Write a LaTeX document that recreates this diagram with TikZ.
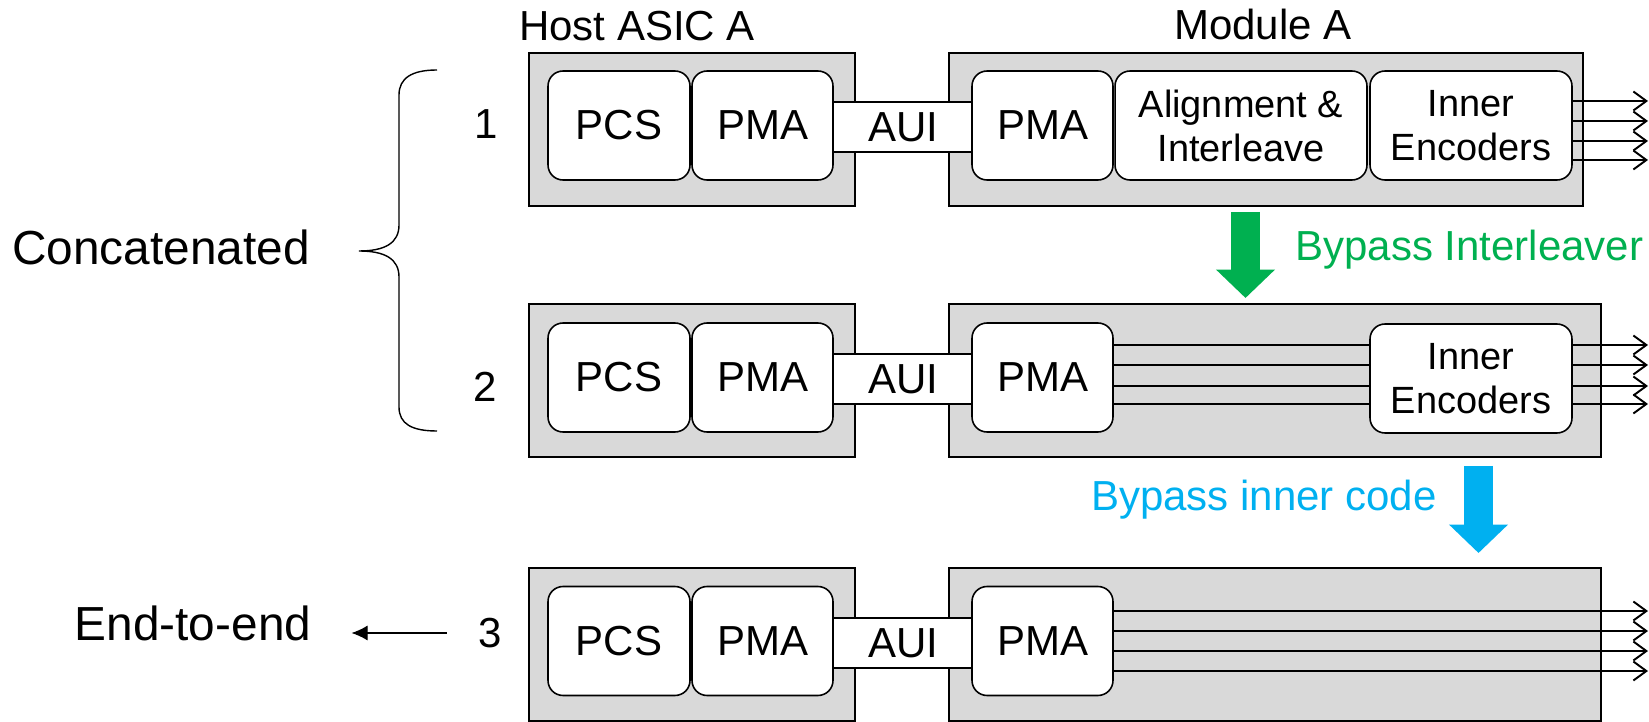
\documentclass[tikz,border=0pt]{standalone}
\usepackage{fontspec}
\setmainfont{Liberation Sans}
\usetikzlibrary{arrows.meta}

\definecolor{boxgray}{HTML}{D9D9D9}
\definecolor{passgreen}{HTML}{00B050}
\definecolor{passblue}{HTML}{00B0F0}
\newcommand\boxfont{\fontsize{23.9}{25}\selectfont}
\newcommand\pairfont{\fontsize{21.6}{25}\selectfont}
\newcommand\bigfont{\fontsize{27.2}{30}\selectfont}

\begin{document}
\begin{tikzpicture}[
  x=0.02cm, y=-0.02cm,
  frame/.style={draw, fill=boxgray, line width=0.9pt, minimum height=3.06cm, inner sep=0pt},
  blk/.style={draw, fill=white, line width=0.9pt, rounded corners=0.3cm,
    minimum height=2.18cm, inner sep=0pt, align=center, font=\boxfont},
  pair/.style={blk, font=\pairfont},
  aui/.style={draw, fill=white, line width=0.9pt, minimum width=2.8cm,
    minimum height=1cm, inner sep=0pt, font=\boxfont},
  txt/.style={font=\boxfont, inner sep=0pt},
  bigtxt/.style={font=\bigfont, inner sep=0pt},
  wire/.style={line width=1.1pt},
  lane/.style={line width=1.1pt, -{Straight Barb[length=0.26cm, width=0.38cm]}},
  bypass/.style={line width=0.58cm, -{Triangle[length=0.57cm, width=1.15cm]}}
]
\useasboundingbox (0,0) rectangle (1649,722);

% --- headings ---
\node[txt] (hosthead) at (637,26) {Host ASIC A};
\node[txt] (modhead) at (1263,24) {Module A};

% --- row 1: concatenated, full inner code ---
\node[frame, minimum width=6.52cm] (host1) at (692,129.5) {};
\node[frame, minimum width=12.68cm] (mod1) at (1266,129.5) {};
\node[aui] (aui1) at (903,127) {AUI};
\node[blk, minimum width=2.84cm] (pcs1) at (619,125.5) {PCS};
\node[blk, minimum width=2.82cm] (pma1) at (762.5,125.5) {PMA};
\node[blk, minimum width=2.82cm] (mpma1) at (1042.5,125.5) {PMA};
\node[pair, minimum width=5.04cm] (align1) at (1241,125.5) {Alignment \&\\Interleave};
\node[pair, minimum width=4.04cm] (enc1) at (1471,125.5) {Inner\\Encoders};
\coordinate (out1) at (1648,125.5);

% --- row 2: interleaver bypassed ---
\node[frame, minimum width=6.52cm] (host2) at (692,380.5) {};
\node[frame, minimum width=13.04cm] (mod2) at (1275,380.5) {};
\node[aui] (aui2) at (903,379) {AUI};
\node[blk, minimum width=2.84cm] (pcs2) at (619,377.5) {PCS};
\node[blk, minimum width=2.82cm] (pma2) at (762.5,377.5) {PMA};
\node[blk, minimum width=2.82cm] (mpma2) at (1042.5,377.5) {PMA};
\node[pair, minimum width=4.04cm] (enc2) at (1471,378.5) {Inner\\Encoders};
\coordinate (out2) at (1648,377.5);

% --- row 3: inner code bypassed ---
\node[frame, minimum width=6.52cm] (host3) at (692,644.5) {};
\node[frame, minimum width=13.04cm] (mod3) at (1275,644.5) {};
\node[aui] (aui3) at (903,643) {AUI};
\node[blk, minimum width=2.84cm] (pcs3) at (619,641) {PCS};
\node[blk, minimum width=2.82cm] (pma3) at (762.5,641) {PMA};
\node[blk, minimum width=2.82cm] (mpma3) at (1042.5,641) {PMA};
\coordinate (out3) at (1648,641);

% --- lanes ---
\foreach \d in {24.5,4.5,-15.5,-34.5} {
  \coordinate (l) at ([yshift=\d*0.02cm]enc1.east);
  \draw[lane] (l) -- (l -| out1);
}
\foreach \d in {32.5,12.5,-8.5,-26.5} {
  \coordinate (l) at ([yshift=\d*0.02cm]mpma2.east);
  \draw[wire] (l) -- (l -| enc2.west);
  \draw[lane] (l -| enc2.east) -- (l -| out2);
}
\foreach \d in {30,10,-10,-30} {
  \coordinate (l) at ([yshift=\d*0.02cm]mpma3.east);
  \draw[lane] (l) -- (l -| out3);
}

% --- row numbers ---
\node[txt] (num1) at (486,124) {1};
\node[txt] (num2) at (485,387) {2};
\node[txt] (num3) at (490,633) {3};

% --- bypass arrows ---
\coordinate (gtop) at (1245.5,212);
\coordinate (gtip) at (1245.5,298);
\draw[bypass, passgreen] (gtop) -- (gtip);
\node[txt, anchor=west, text=passgreen] (gtext) at (1295,250) {Bypass Interleaver};

\coordinate (btop) at (1478.5,466);
\coordinate (btip) at (1478.5,553);
\draw[bypass, passblue] (btop) -- (btip);
\node[txt, anchor=east, text=passblue] (btext) at (1437,500) {Bypass inner code};

% --- left side ---
\node[bigtxt] (concat) at (161,247) {Concatenated};
\draw[line width=0.8pt] (437,70) .. controls (412,70) and (399,78) .. (399,95)
  -- (399,225) .. controls (399,243) and (385,251) .. (359,251)
  .. controls (385,251) and (399,259) .. (399,277)
  -- (399,407) .. controls (399,424) and (412,431) .. (437,431);

\node[bigtxt] (e2e) at (193,623) {End-to-end};
\draw[line width=0.6pt, -{Latex[length=0.32cm, width=0.3cm]},
  shorten <=0.62cm, shorten >=0.8cm] (num3.west) -- (e2e.east |- num3.west);

\end{tikzpicture}
\end{document}
